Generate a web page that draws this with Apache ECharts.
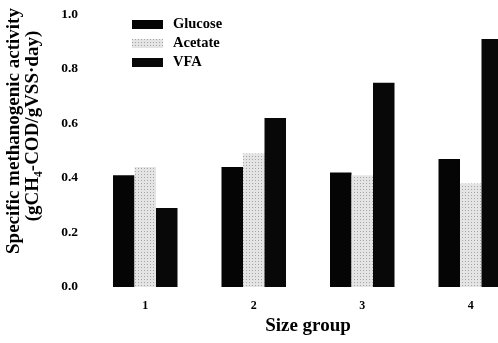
<!DOCTYPE html>
<html>
<head>
<meta charset="utf-8">
<script src="https://cdn.jsdelivr.net/npm/echarts@6/dist/echarts.min.js"></script>
<style>html,body{margin:0;padding:0;background:#fff;}#c{width:498px;height:343px;}</style>
</head>
<body>
<div id="c"></div>
<script>
var categories = ['1', '2', '3', '4'];
var glucose = [0.41, 0.44, 0.42, 0.47];
var acetate = [0.44, 0.49, 0.41, 0.38];
var vfa = [0.29, 0.62, 0.75, 0.91];
var seriesNames = ['Glucose', 'Acetate', 'VFA'];
var yTitle1 = 'Specific methanogenic activity';
var yTitle2 = '(gCH\u2084-COD/gVSS\u00b7day)';

var FONT = '"Liberation Serif", "Times New Roman", serif';
var chart = echarts.init(document.getElementById('c'));
chart.setOption({
  animation: false,
  backgroundColor: '#fff',
  grid: { left: 91, top: 14.5, bottom: 56, width: 434, containLabel: false, outerBoundsMode: 'none' },
  legend: {
    left: 127, top: 12, orient: 'vertical', itemWidth: 31, itemHeight: 9, itemGap: 4,
    icon: 'rect',
    textStyle: { fontFamily: FONT, fontWeight: 'bold', fontSize: 14.5, color: '#000', padding: [0, 0, 0, 5] },
    data: seriesNames
  },
  graphic: [
    { type: 'text', x: 14, y: 131, rotation: Math.PI / 2,
      style: { text: yTitle1, fontFamily: FONT, fontWeight: 'bold', fontSize: 19, fill: '#000', align: 'center', verticalAlign: 'middle' } },
    { type: 'text', x: 33, y: 126, rotation: Math.PI / 2,
      style: { text: yTitle2, fontFamily: FONT, fontWeight: 'bold', fontSize: 19, fill: '#000', align: 'center', verticalAlign: 'middle' } }
  ],
  xAxis: {
    type: 'category', data: categories,
    axisLine: { show: false }, axisTick: { show: false },
    axisLabel: { margin: 13, fontFamily: FONT, fontWeight: 'bold', fontSize: 12, color: '#000' },
    name: 'Size group', nameLocation: 'middle', nameGap: 25,
    nameTextStyle: { fontFamily: FONT, fontWeight: 'bold', fontSize: 19, color: '#000' }
  },
  yAxis: {
    type: 'value', min: 0, max: 1.0, interval: 0.2,
    axisLine: { show: false }, axisTick: { show: false }, splitLine: { show: false },
    axisLabel: { margin: 13, fontFamily: FONT, fontWeight: 'bold', fontSize: 13.5, color: '#000',
      formatter: function (v) { return v.toFixed(1); } }
  },
  series: [
    { name: seriesNames[0], type: 'bar', data: glucose, barWidth: 21.5, barGap: '0%',
      itemStyle: { color: '#050505' } },
    { name: seriesNames[1], type: 'bar', data: acetate, barWidth: 21.5, barGap: '0%',
      itemStyle: { color: '#e4e4e4',
        decal: { symbol: 'rect', symbolSize: 1, color: 'rgba(90,90,90,0.45)', dashArrayX: [1, 2], dashArrayY: [1, 2], rotation: 0 } } },
    { name: seriesNames[2], type: 'bar', data: vfa, barWidth: 21.5, barGap: '0%',
      itemStyle: { color: '#080808' } }
  ]
});
</script>
</body>
</html>
